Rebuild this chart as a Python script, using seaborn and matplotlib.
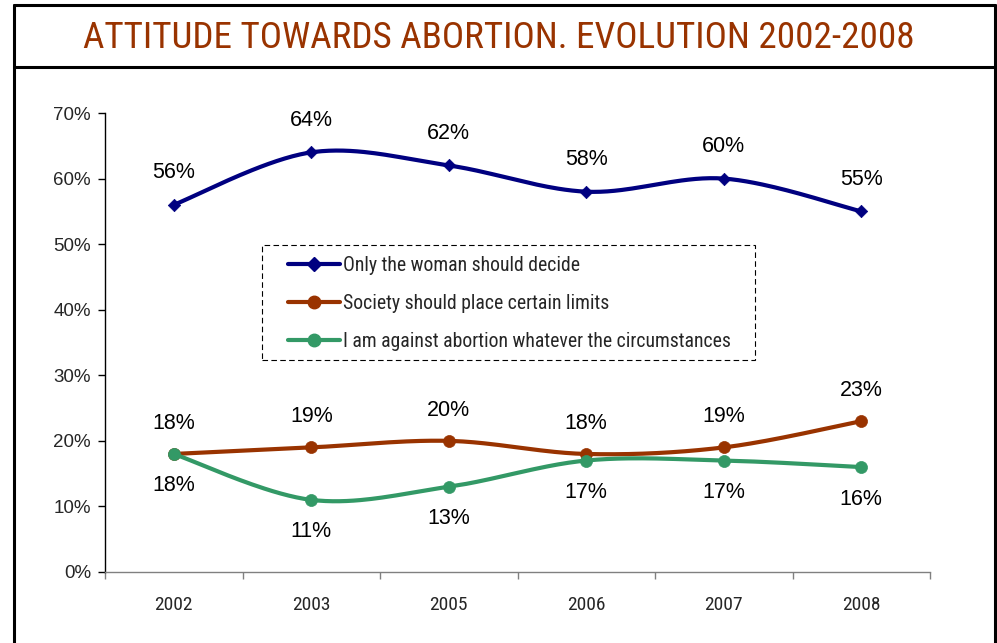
import numpy as np
import pandas as pd
import matplotlib
matplotlib.use("Agg")
import matplotlib.pyplot as plt
import seaborn as sns
from matplotlib import font_manager
from matplotlib.lines import Line2D
from matplotlib.patches import Rectangle

# ---- data -------------------------------------------------------------
years = ["2002", "2003", "2005", "2006", "2007", "2008"]
woman_decides = [56, 64, 62, 58, 60, 55]
society_limits = [18, 19, 20, 18, 19, 23]
against_always = [18, 11, 13, 17, 17, 16]
series_names = [
    "Only the woman should decide",
    "Society should place certain limits",
    "I am against abortion whatever the circumstances",
]
y_ticks = [0, 10, 20, 30, 40, 50, 60, 70]
title_text = "ATTITUDE TOWARDS ABORTION. EVOLUTION 2002-2008"

# ---- styling ----------------------------------------------------------
sns.set_style("white")
plt.rcParams["font.family"] = ["Liberation Sans", "DejaVu Sans"]


def find_narrow_font():
    """Pick a regular-weight narrow/condensed sans face if one is installed."""
    fonts = font_manager.fontManager.ttflist

    def is_regular(f):
        return f.style == "normal" and f.weight in (400, "normal", "regular", "book")

    def is_condensed(f):
        st = f.stretch
        if isinstance(st, str):
            return "condensed" in st
        return st < 500

    prefs = ["Liberation Sans Narrow", "Arial Narrow", "Roboto Condensed",
             "Open Sans Condensed", "Noto Sans Display", "DejaVu Sans Condensed"]
    for p in prefs:
        for f in fonts:
            if f.name == p and is_regular(f):
                return font_manager.FontProperties(fname=f.fname)
    for key in ("Liberation Sans", "Roboto", "Open Sans", "Noto Sans", "DejaVu Sans"):
        for f in fonts:
            if f.name.startswith(key) and is_regular(f) and (
                    is_condensed(f) or "Narrow" in f.fname or "Condensed" in f.fname):
                return font_manager.FontProperties(fname=f.fname)
    for f in fonts:
        if ("Narrow" in f.fname or "Condensed" in f.fname) and is_regular(f):
            return font_manager.FontProperties(fname=f.fname)
    return font_manager.FontProperties(family="Roboto")


narrow_fp = find_narrow_font()


def narrow(size):
    fp = narrow_fp.copy()
    fp.set_size(size)
    return fp


colors = ["#000080", "#993300", "#339966"]
markers = ["D", "o", "o"]
marker_sizes = [40, 75, 75]
label_offsets = [23, 22, -23]


def excel_smooth(values, n=40):
    """Bezier smoothing of a polyline, Catmull-Rom style (tension 1/6)."""
    pts = np.column_stack([np.arange(len(values)), values]).astype(float)
    ext = np.vstack([pts[0], pts, pts[-1]])
    out = []
    t = np.linspace(0, 1, n)[:, None]
    for i in range(len(pts) - 1):
        p0, p1, p2, p3 = ext[i], ext[i + 1], ext[i + 2], ext[i + 3]
        c1 = p1 + (p2 - p0) / 6.0
        c2 = p2 - (p3 - p1) / 6.0
        seg = ((1 - t) ** 3) * p1 + 3 * ((1 - t) ** 2) * t * c1 \
            + 3 * (1 - t) * (t ** 2) * c2 + (t ** 3) * p2
        out.append(seg if i == 0 else seg[1:])
    return np.vstack(out)


W, H = 997, 643
fig = plt.figure(figsize=(W / 100, H / 100), dpi=100)
ax = fig.add_axes([105 / W, 1 - 572 / H, (930 - 105) / W, (572 - 113) / H])

all_series = [woman_decides, society_limits, against_always]
for k, vals in enumerate(all_series):
    curve = excel_smooth(vals)
    df_curve = pd.DataFrame({"x": curve[:, 0], "y": curve[:, 1]})
    sns.lineplot(data=df_curve, x="x", y="y", sort=False, estimator=None,
                 color=colors[k], lw=3, ax=ax, zorder=2 + k,
                 solid_capstyle="round", solid_joinstyle="round")
    df_pts = pd.DataFrame({"x": np.arange(len(vals)), "y": vals})
    sns.scatterplot(data=df_pts, x="x", y="y", marker=markers[k],
                    s=marker_sizes[k], color=colors[k], edgecolor=colors[k],
                    linewidth=0.5, ax=ax, zorder=2.5 + k, legend=False)
    for i, v in enumerate(vals):
        ax.annotate(f"{v}%", (i, v), xytext=(0, label_offsets[k]),
                    textcoords="offset points", ha="center", va="center",
                    fontsize=15.5, color="#000000", zorder=10)

ax.set_xlim(-0.5, len(years) - 0.5)
ax.set_ylim(0, 70)
ax.set_yticks(y_ticks)
ax.set_yticklabels([f"{v}%" for v in y_ticks], fontsize=13.5)
ax.set_xticks(np.arange(len(years)))
ax.set_xticklabels(years, fontproperties=narrow(14))
ax.set_xticks(np.arange(-0.5, len(years), 1), minor=True)
ax.set_xlabel("")
ax.set_ylabel("")

ax.tick_params(axis="x", which="major", length=0, pad=17)
ax.tick_params(axis="x", which="minor", length=5, width=1, color="#808080",
               direction="out", bottom=True)
ax.tick_params(axis="y", which="major", length=5, width=1, color="#000000",
               direction="out", left=True, pad=5)

for side in ("top", "right"):
    ax.spines[side].set_visible(False)
ax.spines["left"].set_color("#000000")
ax.spines["left"].set_linewidth(1.0)
ax.spines["bottom"].set_color("#808080")
ax.spines["bottom"].set_linewidth(1.0)

# legend: entries without their own frame, dashed box drawn around them
handles = [Line2D([0], [0], color=colors[k], lw=3, marker=markers[k],
                  markersize=7 if markers[k] == "D" else 9,
                  markerfacecolor=colors[k], markeredgecolor=colors[k])
           for k in range(3)]
leg = ax.legend(handles, series_names, loc="upper left",
                bbox_to_anchor=(288 / W, 1 - 256 / H),
                bbox_transform=fig.transFigure, borderaxespad=0,
                frameon=False, handlelength=2.65,
                handletextpad=0.15, labelspacing=0.96, borderpad=0,
                prop=narrow(14.2))
leg.set_zorder(20)
fig.add_artist(Rectangle((262 / W, 1 - 360 / H), (755 - 262) / W, (360 - 245) / H,
                         transform=fig.transFigure, fill=False,
                         edgecolor="#000000", lw=0.8, linestyle=(0, (5, 3)),
                         zorder=19))

# outer frame and title band
border_kw = dict(color="#000000", lw=2.2, transform=fig.transFigure)
fig.add_artist(Line2D([13.5 / W, 13.5 / W], [0, 1 - 5 / H], **border_kw))
fig.add_artist(Line2D([995 / W, 995 / W], [0, 1 - 5 / H], **border_kw))
fig.add_artist(Line2D([13.5 / W, 995 / W], [1 - 5 / H, 1 - 5 / H], **border_kw))
fig.add_artist(Line2D([13.5 / W, 995 / W], [1 - 67 / H, 1 - 67 / H], **border_kw))

fig.text(0.5, 1 - 38 / H, title_text, ha="center", va="center",
         color="#993300", fontproperties=narrow(26.7))

fig.savefig("out.png", dpi=100)
